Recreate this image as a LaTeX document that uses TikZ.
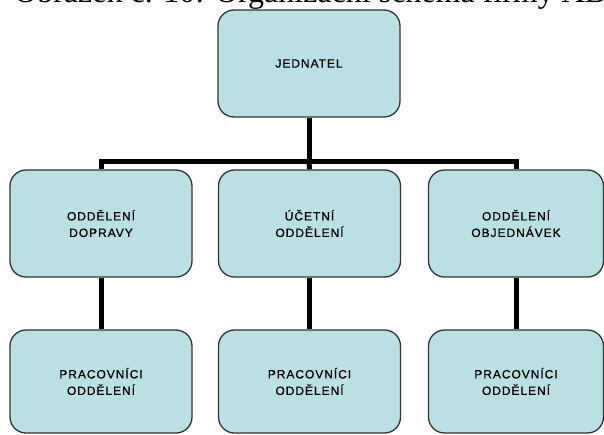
\documentclass[tikz,border=0pt]{standalone}
\usepackage{fontspec}
\setmainfont{Liberation Serif}
\newfontfamily\boxfont[LetterSpace=8,FakeBold=0.6]{Liberation Sans}
\begin{document}
\begin{tikzpicture}[x=1pt,y=-1pt,
  orgbox/.style={draw=black!80, line width=1.3pt, fill=orgfill,
    rounded corners=16pt, minimum width=182pt, minimum height=107pt,
    inner sep=0pt, align=center, font=\boxfont\fontsize{12}{16.5}\selectfont},
  link/.style={line width=5pt, line join=miter}]
\definecolor{orgfill}{HTML}{BBE0E3}
\useasboundingbox (0,0) rectangle (604,434);
\begin{scope}
\clip (0,0) rectangle (604,434);
% caption above the chart, cut off by the page edge
\node[anchor=base west, inner sep=0pt, font=\fontsize{32}{36}\selectfont]
  (caption) at (14,2) {Obrázek č. 10: Organizační schéma firmy AB};
\end{scope}
% top level
\node[orgbox] (boss) at (309,63.5) {JEDNATEL};
% departments
\node[orgbox] (dep1) at (101,223.5) {ODDĚLENÍ\\DOPRAVY};
\node[orgbox] (dep2) at (309.5,223.5) {ÚČETNÍ\\ODDĚLENÍ};
\node[orgbox, minimum width=175pt] (dep3) at (516,223.5) {ODDĚLENÍ\\OBJEDNÁVEK};
% staff
\node[orgbox, minimum height=103pt] (st1) at (101,381.5) {PRACOVNÍCI\\ODDĚLENÍ};
\node[orgbox, minimum height=103pt] (st2) at (309.5,381.5) {PRACOVNÍCI\\ODDĚLENÍ};
\node[orgbox, minimum height=103pt, minimum width=175pt] (st3) at (516,381.5) {PRACOVNÍCI\\ODDĚLENÍ};
% connectors
\coordinate (bus) at (309,161);
\draw[link] (boss.south) -- (bus);
\draw[link] (dep1.north) |- (bus) -| (dep3.north);
\draw[link] (bus) -- (dep2.north);
\draw[link] (dep1.south) -- (st1.north);
\draw[link] (dep2.south) -- (st2.north);
\draw[link] (dep3.south) -- (st3.north);
\end{tikzpicture}
\end{document}
